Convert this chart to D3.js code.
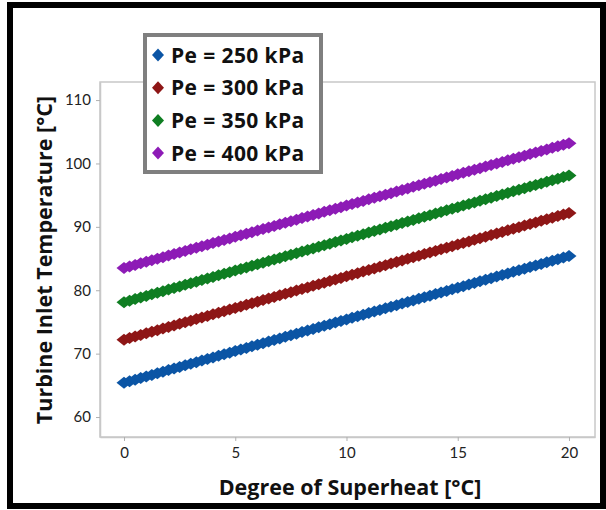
<!DOCTYPE html>
<html>
<head>
<meta charset="utf-8">
<script src="https://cdn.jsdelivr.net/npm/d3@7"></script>
<style>
  html, body { margin: 0; padding: 0; background: #fff; }
  svg { display: block; }
</style>
</head>
<body>
<div id="chart"></div>
<script>
// superheat steps [°C]
const superheat = [0,0.25,0.5,0.75,1,1.25,1.5,1.75,2,2.25,2.5,2.75,3,3.25,3.5,3.75,4,4.25,4.5,4.75,
  5,5.25,5.5,5.75,6,6.25,6.5,6.75,7,7.25,7.5,7.75,8,8.25,8.5,8.75,9,9.25,9.5,9.75,
  10,10.25,10.5,10.75,11,11.25,11.5,11.75,12,12.25,12.5,12.75,13,13.25,13.5,13.75,14,14.25,14.5,14.75,
  15,15.25,15.5,15.75,16,16.25,16.5,16.75,17,17.25,17.5,17.75,18,18.25,18.5,18.75,19,19.25,19.5,19.75,20];

// turbine inlet temperature [°C] per evaporator pressure
const pe250 = [65.4,65.65,65.9,66.15,66.4,66.65,66.9,67.15,67.4,67.65,67.9,68.15,68.4,68.65,68.9,69.15,69.4,69.65,69.9,70.15,
  70.4,70.65,70.9,71.15,71.4,71.65,71.9,72.15,72.4,72.65,72.9,73.15,73.4,73.65,73.9,74.15,74.4,74.65,74.9,75.15,
  75.4,75.65,75.9,76.15,76.4,76.65,76.9,77.15,77.4,77.65,77.9,78.15,78.4,78.65,78.9,79.15,79.4,79.65,79.9,80.15,
  80.4,80.65,80.9,81.15,81.4,81.65,81.9,82.15,82.4,82.65,82.9,83.15,83.4,83.65,83.9,84.15,84.4,84.65,84.9,85.15,85.4];
const pe300 = [72.2,72.45,72.7,72.95,73.2,73.45,73.7,73.95,74.2,74.45,74.7,74.95,75.2,75.45,75.7,75.95,76.2,76.45,76.7,76.95,
  77.2,77.45,77.7,77.95,78.2,78.45,78.7,78.95,79.2,79.45,79.7,79.95,80.2,80.45,80.7,80.95,81.2,81.45,81.7,81.95,
  82.2,82.45,82.7,82.95,83.2,83.45,83.7,83.95,84.2,84.45,84.7,84.95,85.2,85.45,85.7,85.95,86.2,86.45,86.7,86.95,
  87.2,87.45,87.7,87.95,88.2,88.45,88.7,88.95,89.2,89.45,89.7,89.95,90.2,90.45,90.7,90.95,91.2,91.45,91.7,91.95,92.2];
const pe350 = [78.1,78.35,78.6,78.85,79.1,79.35,79.6,79.85,80.1,80.35,80.6,80.85,81.1,81.35,81.6,81.85,82.1,82.35,82.6,82.85,
  83.1,83.35,83.6,83.85,84.1,84.35,84.6,84.85,85.1,85.35,85.6,85.85,86.1,86.35,86.6,86.85,87.1,87.35,87.6,87.85,
  88.1,88.35,88.6,88.85,89.1,89.35,89.6,89.85,90.1,90.35,90.6,90.85,91.1,91.35,91.6,91.85,92.1,92.35,92.6,92.85,
  93.1,93.35,93.6,93.85,94.1,94.35,94.6,94.85,95.1,95.35,95.6,95.85,96.1,96.35,96.6,96.85,97.1,97.35,97.6,97.85,98.1];
const pe400 = [83.5,83.75,83.99,84.24,84.49,84.73,84.98,85.22,85.47,85.72,85.96,86.21,86.46,86.7,86.95,87.19,87.44,87.69,87.93,88.18,
  88.43,88.67,88.92,89.16,89.41,89.66,89.9,90.15,90.4,90.64,90.89,91.13,91.38,91.63,91.87,92.12,92.37,92.61,92.86,93.1,
  93.35,93.6,93.84,94.09,94.34,94.58,94.83,95.07,95.32,95.57,95.81,96.06,96.31,96.55,96.8,97.04,97.29,97.54,97.78,98.03,
  98.28,98.52,98.77,99.01,99.26,99.51,99.75,100,100.25,100.49,100.74,100.98,101.23,101.48,101.72,101.97,102.22,102.46,102.71,102.95,103.2];

const seriesNames  = ["Pe = 250 kPa", "Pe = 300 kPa", "Pe = 350 kPa", "Pe = 400 kPa"];
const seriesValues = [pe250, pe300, pe350, pe400];
const seriesColors = ["#0b55a5", "#8e1616", "#0f7e22", "#8d1bb6"];

const xTicks = [0, 5, 10, 15, 20];
const yTicks = [60, 70, 80, 90, 100, 110];

const W = 606, H = 510;
const plot = { left: 100, right: 595, top: 82, bottom: 437 };
const FONT = "'Open Sans', Lato, sans-serif";

const svg = d3.select("#chart").append("svg")
    .attr("width", W)
    .attr("height", H);

// outer black frame
svg.append("rect")
    .attr("x", 10).attr("y", 5)
    .attr("width", 593).attr("height", 501)
    .attr("fill", "#fff")
    .attr("stroke", "#000")
    .attr("stroke-width", 6);

const x = d3.scaleLinear().domain([-1.08, 21.17]).range([plot.left, plot.right]);
const y = d3.scaleLinear().domain([56.85, 112.85]).range([plot.bottom, plot.top]);

// plot frame
svg.append("rect")
    .attr("x", plot.left).attr("y", plot.top)
    .attr("width", plot.right - plot.left)
    .attr("height", plot.bottom - plot.top)
    .attr("fill", "#fff")
    .attr("stroke", "#c8c8c8")
    .attr("stroke-width", 1.5);

// axes
const xAxis = svg.append("g")
    .attr("transform", `translate(0,${plot.bottom})`)
    .call(d3.axisBottom(x).tickValues(xTicks).tickSize(4).tickPadding(6).tickSizeOuter(0));
const yAxis = svg.append("g")
    .attr("transform", `translate(${plot.left},0)`)
    .call(d3.axisLeft(y).tickValues(yTicks).tickSize(4).tickPadding(5).tickSizeOuter(0));

[xAxis, yAxis].forEach(a => {
  a.select(".domain").attr("stroke", "#c8c8c8").attr("stroke-width", 1.5);
  a.selectAll(".tick line").attr("stroke", "#b0b0b0");
  a.selectAll(".tick text")
    .attr("fill", "#222")
    .style("font", "15px Lato, 'Open Sans', sans-serif");
});

// wide diamond marker (half-width 7.5, half-height 6)
function diamondPath(hw, hh) {
  const p = d3.path();
  p.moveTo(0, -hh); p.lineTo(hw, 0); p.lineTo(0, hh); p.lineTo(-hw, 0); p.closePath();
  return p.toString();
}
const markD = diamondPath(7.5, 6);

seriesValues.forEach((vals, i) => {
  svg.append("g")
    .selectAll("path")
    .data(vals.map((v, j) => ({ sh: superheat[j], t: v })))
    .join("path")
      .attr("transform", d => `translate(${x(d.sh)},${y(d.t)})`)
      .attr("d", markD)
      .attr("fill", seriesColors[i]);
});

// axis titles
svg.append("text")
    .attr("x", 350).attr("y", 495)
    .attr("text-anchor", "middle")
    .attr("font-family", FONT)
    .attr("font-weight", "bold")
    .attr("font-size", 21.5)
    .attr("fill", "#111")
    .text("Degree of Superheat [°C]");

svg.append("text")
    .attr("transform", "translate(52,260) rotate(-90)")
    .attr("text-anchor", "middle")
    .attr("font-family", FONT)
    .attr("font-weight", "bold")
    .attr("font-size", 21.5)
    .attr("fill", "#111")
    .text("Turbine Inlet Temperature [°C]");

// legend
const legend = svg.append("g");
legend.append("rect")
    .attr("x", 145).attr("y", 35)
    .attr("width", 176).attr("height", 137)
    .attr("fill", "#fff")
    .attr("stroke", "#7f7f7f")
    .attr("stroke-width", 4);

const legendD = diamondPath(6, 6.5);
seriesNames.forEach((name, i) => {
  const cy = 55 + i * 32.7;
  legend.append("path")
      .attr("transform", `translate(158,${cy})`)
      .attr("d", legendD)
      .attr("fill", seriesColors[i]);
  legend.append("text")
      .attr("x", 171).attr("y", cy)
      .attr("dy", "0.36em")
      .attr("font-family", FONT)
      .attr("font-weight", "bold")
      .attr("font-size", 21)
      .attr("letter-spacing", 0.4)
      .attr("fill", "#111")
      .text(name);
});
</script>
</body>
</html>
